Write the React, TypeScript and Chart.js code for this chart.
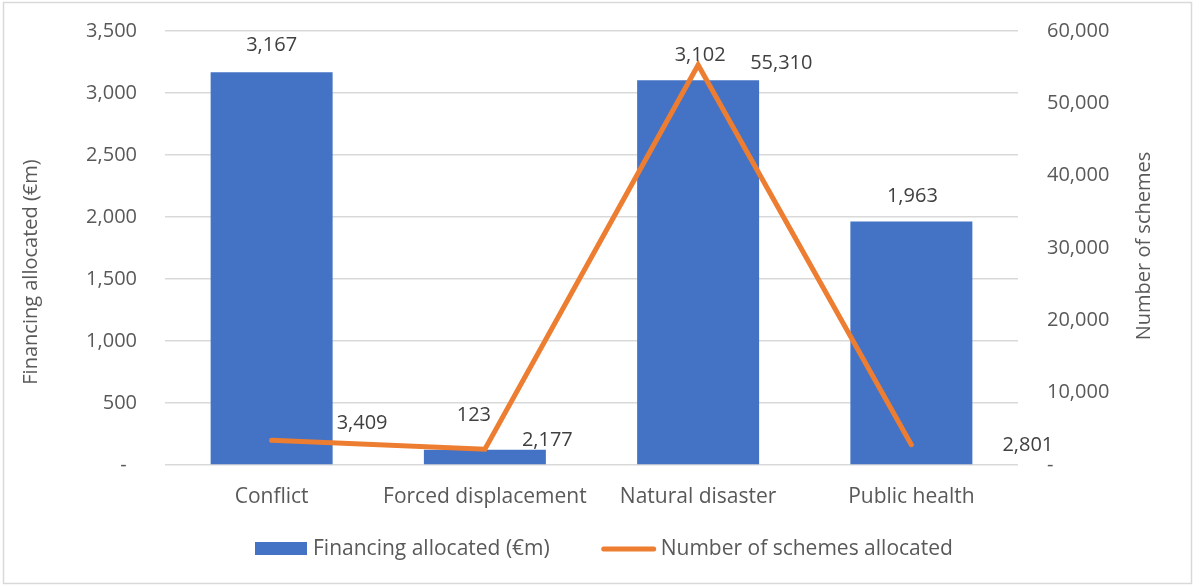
import React, { useEffect, useRef } from "react";
import { Chart, registerables } from "chart.js";

Chart.register(...registerables);

const categories = ["Conflict", "Forced displacement", "Natural disaster", "Public health"];
const financing = [3167, 123, 3102, 1963];
const schemes = [3409, 2177, 55310, 2801];

const leftTicks = { min: 0, max: 3500, step: 500 };
const rightTicks = { min: 0, max: 60000, step: 10000 };

const leftTitle = "Financing allocated (€m)";
const rightTitle = "Number of schemes";

// label nudges relative to computed element positions (px)
const barLabelDX = [0, -11, 2, 1];
const barLabelDY = [-27, -34, -25, -25];
const lineLabelDX = [65, 37, 52, 91];
const lineLabelDY = [-17, -9, -2, 1];

const BLUE = "#4472C4";
const ORANGE = "#ED7D31";
const FONT = "'Open Sans'";
const SIZE = 20;
const TEXT_SIZE = 21;

const fmt = (v: number) => v.toLocaleString("en-US");

export default function App() {
  const ref = useRef<HTMLCanvasElement | null>(null);
  useEffect(() => {
    document.body.style.margin = "0";
    const canvas = ref.current!;
    const labelsPlugin = {
      id: "labelsPlugin",
      beforeDraw(chart: any) {
        const ctx = chart.ctx;
        ctx.save();
        ctx.fillStyle = "#ffffff";
        ctx.fillRect(0, 0, chart.width, chart.height);
        ctx.strokeStyle = "#d9d9d9";
        ctx.lineWidth = 1.5;
        ctx.strokeRect(3.5, 2.5, 1188, 581);
        ctx.restore();
      },
      afterDatasetsDraw(chart: any) {
        const ctx = chart.ctx;
        const area = chart.chartArea;
        ctx.save();
        ctx.font = `${SIZE}px ${FONT}`;
        ctx.fillStyle = "#404040";
        ctx.textBaseline = "middle";
        const bm = chart.getDatasetMeta(0);
        bm.data.forEach((el: any, i: number) => {
          ctx.textAlign = "center";
          ctx.fillText(fmt(financing[i]), el.x + barLabelDX[i], el.y + barLabelDY[i]);
        });
        const lm = chart.getDatasetMeta(1);
        lm.data.forEach((el: any, i: number) => {
          ctx.textAlign = "left";
          ctx.fillText(fmt(schemes[i]), el.x + lineLabelDX[i], el.y + lineLabelDY[i]);
        });
        // axis titles
        ctx.fillStyle = "#595959";
        ctx.textAlign = "center";
        ctx.save();
        ctx.translate(31, area.top + (area.bottom - area.top) / 2 + 24);
        ctx.rotate(-Math.PI / 2);
        ctx.fillText(leftTitle, 0, 0);
        ctx.restore();
        ctx.save();
        ctx.translate(1144, area.top + (area.bottom - area.top) / 2 - 2);
        ctx.rotate(-Math.PI / 2);
        ctx.fillText(rightTitle, 0, 0);
        ctx.restore();
        // legend
        ctx.font = `${TEXT_SIZE}px ${FONT}`;
        const t1 = chart.data.datasets[0].label;
        const t2 = chart.data.datasets[1].label;
        const w1 = ctx.measureText(t1).width;
        let x = 255;
        const y = 549;
        ctx.fillStyle = BLUE;
        ctx.fillRect(x, y - 7, 52, 13);
        x += 58;
        ctx.fillStyle = "#595959";
        ctx.textAlign = "left";
        ctx.fillText(t1, x, y);
        x += w1 + 52;
        ctx.strokeStyle = ORANGE;
        ctx.lineWidth = 5;
        ctx.lineCap = "round";
        ctx.beginPath();
        ctx.moveTo(x + 2, y);
        ctx.lineTo(x + 52, y);
        ctx.stroke();
        x += 59;
        ctx.fillText(t2, x, y);
        ctx.restore();
      },
    };

    const chart = new Chart(canvas, {
      type: "bar",
      data: {
        labels: categories,
        datasets: [
          {
            type: "bar",
            label: "Financing allocated (€m)",
            data: financing,
            backgroundColor: BLUE,
            yAxisID: "y",
            categoryPercentage: 1,
            barPercentage: 0.572,
            order: 2,
          },
          {
            type: "line",
            label: "Number of schemes allocated",
            data: schemes,
            borderColor: ORANGE,
            backgroundColor: ORANGE,
            borderWidth: 5,
            borderCapStyle: "round",
            borderJoinStyle: "miter",
            pointRadius: 0,
            tension: 0,
            yAxisID: "y1",
            order: 1,
          },
        ],
      } as any,
      plugins: [labelsPlugin],
      options: {
        responsive: false,
        animation: false,
        layout: { padding: { top: 31, bottom: 71, left: 0, right: 0 } },
        plugins: { legend: { display: false }, tooltip: { enabled: false } },
        scales: {
          x: {
            grid: { display: false, drawTicks: false },
            border: { display: false },
            ticks: { color: "#595959", font: { family: FONT, size: TEXT_SIZE }, padding: 19 },
            afterFit: (s: any) => { s.height = 50; s.paddingLeft = 0; s.paddingRight = 0; },
          },
          y: {
            position: "left",
            min: leftTicks.min,
            max: leftTicks.max,
            grid: { color: "#d9d9d9", lineWidth: 1.5, drawTicks: false },
            border: { display: false },
            ticks: {
              stepSize: leftTicks.step,
              color: "#595959",
              font: { family: FONT, size: SIZE },
              padding: 28,
              callback: (v: any) => (v === 0 ? "-  " : fmt(v)),
            },
            afterFit: (s: any) => { s.width = 165; s.paddingTop = 0; s.paddingBottom = 0; },
          },
          y1: {
            position: "right",
            min: rightTicks.min,
            max: rightTicks.max,
            grid: { display: false, drawTicks: false },
            border: { display: false },
            ticks: {
              stepSize: rightTicks.step,
              color: "#595959",
              font: { family: FONT, size: SIZE },
              padding: 29,
              callback: (v: any) => (v === 0 ? "-" : fmt(v)),
            },
            afterFit: (s: any) => { s.width = 182; s.paddingTop = 0; s.paddingBottom = 0; },
          },
        },
      } as any,
    });
    return () => chart.destroy();
  }, []);
  return (
    <div style={{ position: "absolute", left: 0, top: 0, width: 1200, height: 586 }}>
      <canvas ref={ref} width={1200} height={586} style={{ width: 1200, height: 586, display: "block" }} />
    </div>
  );
}
